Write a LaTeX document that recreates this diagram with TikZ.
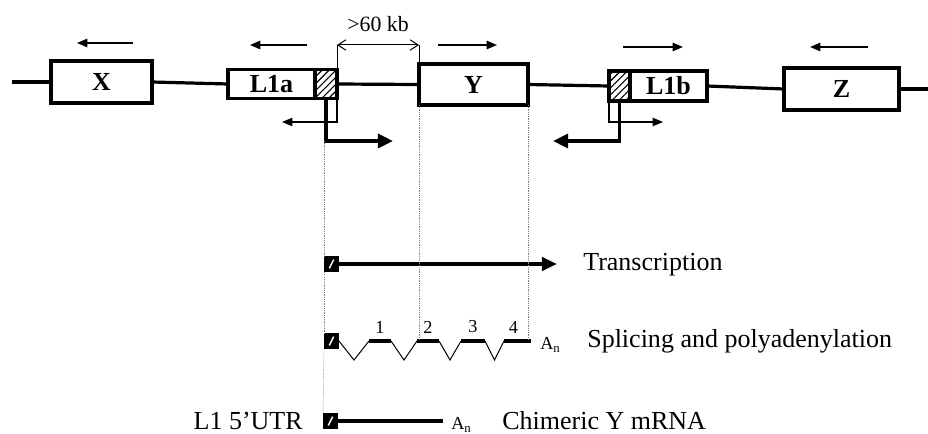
\documentclass[tikz,border=0pt]{standalone}
\usepackage{fontspec}
\setmainfont{Liberation Serif}
\usetikzlibrary{positioning, calc, arrows.meta, patterns.meta}

\begin{document}
\begin{tikzpicture}[x=0.25mm, y=-0.25mm,
  gene/.style={rectangle, draw, line width=1mm, inner sep=0pt, outer sep=0pt, font=\fontsize{18.5}{20}\selectfont\bfseries},
  utr/.style={rectangle, draw, line width=0.8mm, inner sep=0pt, outer sep=0pt, minimum width=5.5mm, pattern={Lines[angle=45, distance=3.5pt, line width=0.8pt]}},
  chrom/.style={line width=0.8mm},
  dirarrow/.style={-{Triangle[length=2.6mm, width=2.1mm]}, line width=0.4mm},
  tssthin/.style={-{Triangle[length=2.6mm, width=2.1mm]}, line width=0.3mm},
  tssthick/.style={-{Triangle[length=3.8mm, width=3.5mm]}, line width=0.9mm},
  dimline/.style={line width=0.25mm},
  dimarrow/.style={{Straight Barb[length=2mm, width=2.6mm]}-{Straight Barb[length=2mm, width=2.6mm]}, line width=0.25mm},
  guide/.style={gray, line width=0.3pt, dash pattern=on 0.8pt off 0.8pt},
  utrbox/.style={rectangle, fill=black, minimum width=3.75mm, minimum height=4mm, inner sep=0pt, outer sep=0pt,
    path picture={\draw[white, line width=0.35mm] ([shift={(-0.55mm,-1.1mm)}]path picture bounding box.center) -- ([shift={(0.55mm,1.1mm)}]path picture bounding box.center);}},
  txarrow/.style={-{Triangle[length=3.8mm, width=3.3mm]}, line width=1mm},
  mrna/.style={line width=1mm},
  exon/.style={rectangle, fill=black, inner sep=0pt, outer sep=0pt, minimum height=1mm},
  intron/.style={line width=0.25mm, to path={-- ($(\tikztostart)!.5!(\tikztotarget)+(0,19)$) -- (\tikztotarget)}},
  numlbl/.style={font=\fontsize{13}{15}\selectfont, inner sep=4pt},
  txt/.style={font=\fontsize{18.5}{20}\selectfont, inner sep=0pt},
  small/.style={font=\fontsize{13}{15}\selectfont, inner sep=0pt}
]
\useasboundingbox (0,0) rectangle (928,434);

% genomic locus
\node[gene, minimum width=25.25mm, minimum height=10.5mm] (X) at (101.5,82) {X};
\node[gene, line width=0.8mm, minimum width=21.75mm, minimum height=7.25mm] (L1a) at (271.5,84) {L1a};
\node[utr, minimum height=7.25mm, right=0pt of L1a] (L1a-utr) {};
\node[gene, minimum width=27.25mm, minimum height=10.25mm] (Y) at (473.5,84.5) {Y};
\node[gene, line width=0.8mm, minimum width=19.25mm, minimum height=7.5mm] (L1b) at (668.5,86) {L1b};
\node[utr, minimum width=5.25mm, minimum height=7.5mm, left=0pt of L1b] (L1b-utr) {};
\node[gene, minimum width=28.75mm, minimum height=10.5mm] (Z) at (841.5,89) {Z};

\coordinate (chr-start) at (12,82);
\coordinate (chr-end) at (928,89);
\draw[chrom] (chr-start) -- (X.west);
\draw[chrom] (X.east) -- (L1a.west);
\draw[chrom] (L1a-utr.east) -- (Y.west);
\draw[chrom] (Y.east) -- (L1b-utr.west);
\draw[chrom] (L1b.east) -- (Z.west);
\draw[chrom] (Z.east) -- (chr-end);

% orientation
\draw[dirarrow] ($(X.north)+(31.5,-18)$) -- ++(-56,0);
\draw[dirarrow] ($(L1a.north)+(35.5,-24.5)$) -- ++(-57,0);
\draw[dirarrow] ($(Y.north)+(-35.5,-19)$) -- ++(59,0);
\draw[dirarrow] ($(L1b.north)+(-45.5,-24)$) -- ++(60,0);
\draw[dirarrow] ($(Z.north)+(26.5,-21)$) -- ++(-58,0);

% distance
\coordinate (dim-l) at (L1a-utr.north east |- 0,45);
\coordinate (dim-r) at (Y.north west |- 0,45);
\draw[dimline] (L1a-utr.north east) -- (dim-l);
\draw[dimline] (Y.north west) -- (dim-r);
\draw[dimarrow] (dim-l) -- (dim-r) node[midway, above=9pt, inner sep=0pt, font=\fontsize{15.5}{17}\selectfont] (dist-lbl) {>60 kb};

% L1 promoters
\coordinate (L1a-as) at (282,122);
\coordinate (L1a-s) at (393,141);
\draw[tssthin] (L1a-utr.south east) |- (L1a-as);
\draw[tssthick] (L1a-utr.south) |- (L1a-s);
\coordinate (L1b-s) at (663,122);
\coordinate (L1b-as) at (553,141);
\draw[tssthin] (L1b-utr.south west) |- (L1b-s);
\draw[tssthick] (L1b-utr.south) |- (L1b-as);

% transcription
\node[utrbox] (utr-tx) at (331.5,264) {};
\coordinate (tx-end) at (557,264);
\draw[txarrow] (utr-tx.east) -- (tx-end);
\node[txt, anchor=west] (tx-lbl) at (583,265) {Transcription};

% splicing
\node[utrbox] (utr-sp) at (331.5,341) {};
\node[exon, minimum width=5.5mm, label={[numlbl]above:1}] (ex1) at (380,341) {};
\node[exon, minimum width=5.5mm, label={[numlbl]above:2}] (ex2) at (428,341) {};
\node[exon, minimum width=6mm, label={[numlbl]above:3}] (ex3) at (473,341) {};
\node[exon, minimum width=6.75mm, label={[numlbl, xshift=-1mm]above:4}] (ex4) at (517.5,341) {};
\draw[intron] (utr-sp.east) to (ex1.west) (ex1.east) to (ex2.west) (ex2.east) to (ex3.west) (ex3.east) to (ex4.west);
\node[small, anchor=west] (an-sp) at (540,345) {A\textsubscript{n}};
\node[txt, anchor=west] (sp-lbl) at (587,341) {Splicing and polyadenylation};

% chimeric mRNA
\node[utrbox] (utr-ch) at (330.5,421) {};
\coordinate (ch-end) at (443,421);
\draw[mrna] (utr-ch.east) -- (ch-end);
\node[small, anchor=west] (an-ch) at (451,425) {A\textsubscript{n}};
\node[txt, anchor=east] (utr-lbl) at (303,421) {L1 5'UTR};
\node[txt, anchor=west] (ch-lbl) at (502,421) {Chimeric Y mRNA};

% guides
\draw[guide] (utr-tx.north west |- L1a-s) -- (utr-tx.north west);
\draw[guide] (utr-tx.south west) -- (utr-sp.north west);
\draw[guide] (utr-sp.south west) -- (utr-ch.north west);
\draw[guide] (Y.south west) -- (Y.south west |- ex2.north);
\draw[guide] (Y.south east) -- (Y.south east |- ex4.north);
\end{tikzpicture}
\end{document}
